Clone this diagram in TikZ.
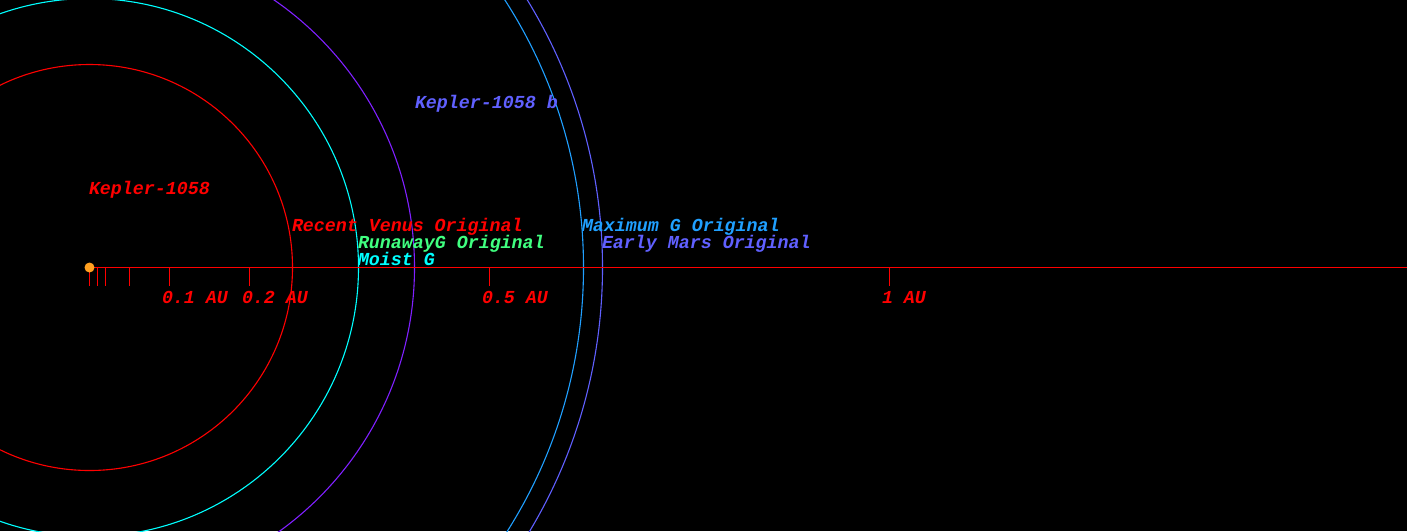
\documentclass[tikz,border=0pt]{standalone}
\usepackage{fontspec}
\usepackage{tikz}
\usetikzlibrary{positioning,calc}
\newfontfamily\monoit{Liberation Mono}
\definecolor{orbRed}{HTML}{FF0000}
\definecolor{orbCyan}{HTML}{00FFFF}
\definecolor{orbGreen}{HTML}{40FF80}
\definecolor{orbPurple}{HTML}{8020FF}
\definecolor{orbSky}{HTML}{20A0FF}
\definecolor{orbBlue}{HTML}{6060FF}
\definecolor{starC}{HTML}{FFA020}
\tikzset{
  orbit/.style={draw=#1, line width=1.1pt},
  lbl/.style={text=#1, anchor=base west, inner sep=0pt, outer sep=0pt,
              font=\monoit\bfseries\itshape\fontsize{18.3}{20}\selectfont},
  graduation/.style={draw=orbRed, line width=1.3pt},
}
\begin{document}
\begin{tikzpicture}[x=1pt,y=-1pt]
        \fill[black] (0,0) rectangle (1407,531);
        \clip (0,0) rectangle (1407,531);
        \coordinate (axend) at (1407,267.5);
        % orbits
        \node[circle, inner sep=0pt, minimum size=0pt] (star) at (89.5,267.5) {};
        \draw[orbit=orbRed] (star.center) circle[radius=203];
        \draw[orbit=orbCyan] (star.center) circle[radius=269];
        \draw[orbit=orbPurple] (star.center) circle[radius=325];
        \draw[orbit=orbSky] (star.center) circle[radius=494];
        \draw[orbit=orbBlue] (star.center) circle[radius=513];
        % scale
        \draw[graduation] (star.center) -- (axend);
        \foreach \a in {0,0.01,0.02,0.05,0.1,0.2,0.5,1}
          \draw[graduation] ({89.5+800*\a},267.5) -- ++(0,18);
        \node[lbl=orbRed] (au1) at (162,303) {0.1 AU};
        \node[lbl=orbRed] (au2) at (242,303) {0.2 AU};
        \node[lbl=orbRed] (au5) at (482,303) {0.5 AU};
        \node[lbl=orbRed] (au10) at (882,303) {1 AU};
        \fill[starC] (star.center) circle[radius=5];
        % labels
        \node[lbl=orbRed] (starname) at (89,194) {Kepler-1058};
        \node[lbl=orbBlue] (planet) at (415,108) {Kepler-1058 b};
        \node[lbl=orbRed] (rv) at (292,231) {Recent Venus Original};
        \node[lbl=orbGreen] (rg) at (358,248) {RunawayG Original};
        \node[lbl=orbCyan] (mg) at (358,265) {Moist G};
        \node[lbl=orbSky] (maxg) at (582,231) {Maximum G Original};
        \node[lbl=orbBlue] (em) at (602,248) {Early Mars Original};
      \end{tikzpicture}
\end{document}
